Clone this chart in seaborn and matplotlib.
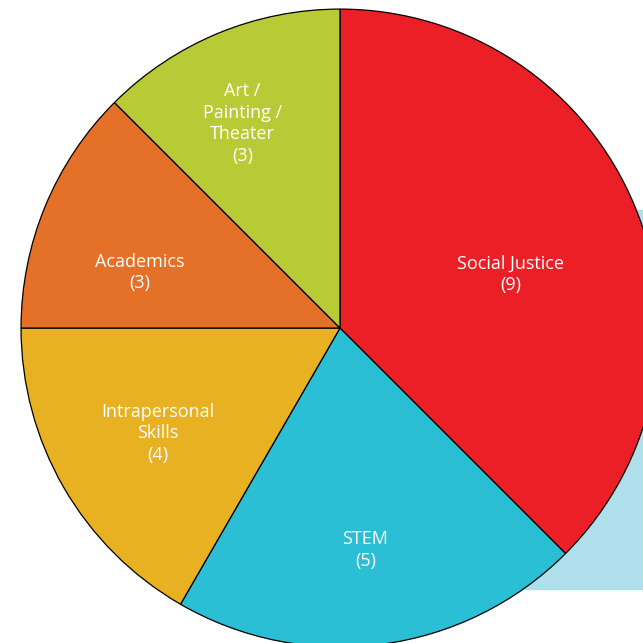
"""
Pie chart: program focus areas (counts), with a light blue panel behind.
"""

import numpy as np
import matplotlib.pyplot as plt
import seaborn as sns
from matplotlib.patches import Rectangle

# data
categories = ["Social Justice", "STEM", "Intrapersonal\nSkills", "Academics", "Art /\nPainting /\nTheater"]
counts = [9, 5, 4, 3, 3]
colors = ["#EC1F27", "#2BBFD6", "#E8B121", "#E57027", "#B8CA35"]

sns.set_style("white")
plt.rcParams["font.family"] = ["Open Sans", "DejaVu Sans"]

fig = plt.figure(figsize=(6.43, 6.43), dpi=100)
ax = fig.add_axes([0, 0, 1, 1])

# light blue panel peeking out behind the pie on the right
ax.add_patch(Rectangle((0.30, -0.819), 1.0, 1.188, color="#AEDFEA", zorder=0))

wedges, _ = ax.pie(
    counts, colors=colors, startangle=90, counterclock=False,
    radius=1.0, wedgeprops=dict(edgecolor="black", linewidth=0.9),
)
for w in wedges:
    w.set_zorder(1)

# label radius (fraction of the pie radius) and small angle nudges
label_r = [0.56, 0.70, 0.66, 0.65, 0.71]
nudge = [-5, -1, 0, 7, 3]
for w, name, n, r, d in zip(wedges, categories, counts, label_r, nudge):
    ang = np.deg2rad((w.theta1 + w.theta2) / 2 + d)
    ax.text(r * np.cos(ang), r * np.sin(ang), f"{name}\n({n})",
            ha="center", va="center", color="white", fontsize=13,
            linespacing=1.25, zorder=3)

ax.set_xlim(-1.066, 0.950)
ax.set_ylim(-0.987, 1.028)
ax.set_aspect("equal")
ax.axis("off")

plt.savefig("out.png", dpi=100)
